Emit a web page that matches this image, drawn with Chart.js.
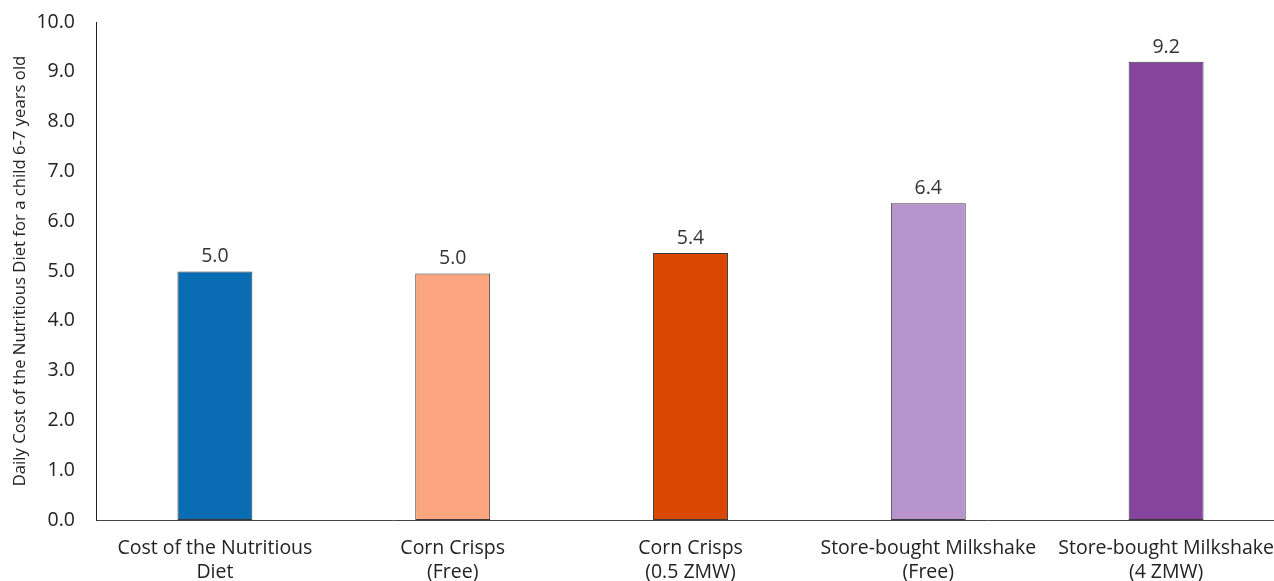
<!DOCTYPE html>
<html>
<head>
<meta charset="utf-8">
<script src="https://cdn.jsdelivr.net/npm/chart.js@4"></script>
<style>
  html, body { margin: 0; padding: 0; background: #fff; overflow: hidden; }
  #wrap { width: 1286px; height: 581px; }
</style>
</head>
<body>
<div id="wrap"><canvas id="myChart" width="1286" height="581"></canvas></div>
<script>
const categories = [
    ['Cost of the Nutritious', 'Diet'],
    ['Corn Crisps', '(Free)'],
    ['Corn Crisps', '(0.5 ZMW)'],
    ['Store-bought Milkshake', '(Free)'],
    ['Store-bought Milkshake', '(4 ZMW)']
];
const values = [4.99, 4.95, 5.36, 6.36, 9.2];
const barColors = ['#0a6db3', '#fca57e', '#d94702', '#b794cb', '#87449e'];

// draws the value above each bar
const valueLabels = {
    id: 'valueLabels',
    afterDatasetsDraw(chart) {
        const ctx = chart.ctx;
        const meta = chart.getDatasetMeta(0);
        ctx.save();
        ctx.font = '19.5px "Open Sans"';
        ctx.fillStyle = '#333';
        ctx.textAlign = 'center';
        ctx.textBaseline = 'bottom';
        meta.data.forEach(function (bar, i) {
            ctx.fillText(values[i].toFixed(1), bar.x, bar.y - 5);
        });
        ctx.restore();
    }
};

new Chart(document.getElementById('myChart'), {
    type: 'bar',
    data: {
        labels: categories,
        datasets: [{
            data: values,
            backgroundColor: barColors,
            borderColor: '#3a3a3a',
            borderWidth: 1,
            borderSkipped: false,
            barPercentage: 0.315,
            categoryPercentage: 1
        }]
    },
    options: {
        responsive: false,
        animation: false,
        layout: { padding: { top: 0, right: 1, left: 10, bottom: 0 } },
        plugins: {
            legend: { display: false },
            tooltip: { enabled: false }
        },
        scales: {
            x: {
                grid: { display: false, drawTicks: false },
                border: { color: '#444', width: 1 },
                ticks: {
                    color: '#222',
                    font: { family: 'Open Sans', size: 19.5 },
                    padding: 17,
                    maxRotation: 0,
                    autoSkip: false
                },
                afterFit: function (scale) {
                    scale.paddingLeft = 0;
                    scale.paddingRight = 0;
                    scale.height = 61;
                }
            },
            y: {
                min: 0,
                max: 10,
                grid: { display: false, drawTicks: false },
                border: { color: '#222', width: 1 },
                ticks: {
                    stepSize: 1,
                    color: '#222',
                    font: { family: 'Open Sans', size: 19.5 },
                    padding: 21,
                    callback: function (v) { return v.toFixed(1); }
                },
                title: {
                    display: true,
                    text: 'Daily Cost of the Nutritious Diet for a child 6-7 years old',
                    color: '#222',
                    font: { family: 'Open Sans', size: 16.7 },
                    padding: { top: 0, bottom: 4 }
                },
                afterFit: function (scale) {
                    scale.width = 86;
                    scale.paddingTop = 22;
                    scale.paddingBottom = 0;
                }
            }
        }
    },
    plugins: [valueLabels]
});
</script>
</body>
</html>
